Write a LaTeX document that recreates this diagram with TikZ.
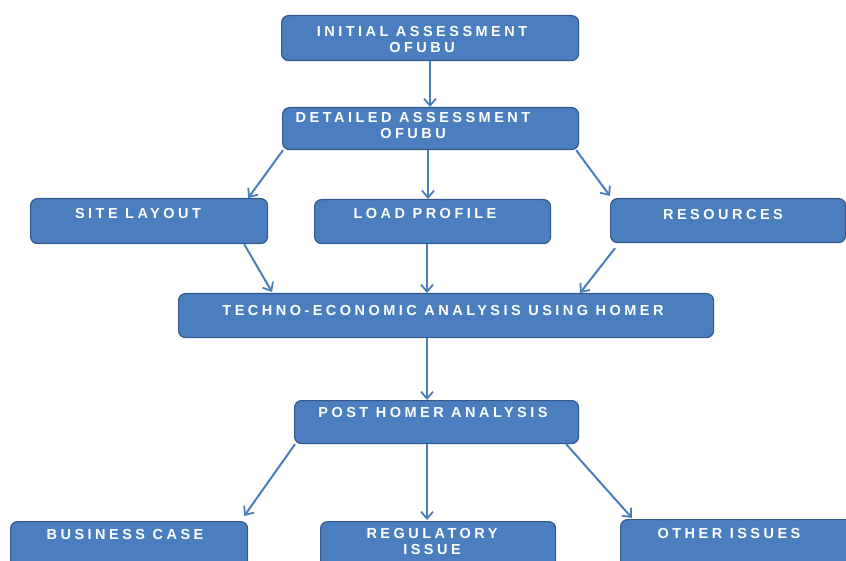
\documentclass[tikz,border=0pt]{standalone}
\usepackage{fontspec}
\setmainfont{Liberation Sans}
\newfontfamily\boxfont{Liberation Sans Bold}[LetterSpace=24]
\usetikzlibrary{arrows.meta,calc}
\definecolor{boxfill}{RGB}{74,126,190}
\definecolor{boxline}{RGB}{52,90,140}
\definecolor{arr}{RGB}{74,126,187}
\begin{document}
\begin{tikzpicture}[x=1pt,y=-1pt,
  box/.style={draw=boxline,line width=1.2pt,fill=boxfill,rounded corners=7pt,inner sep=0pt,anchor=north west},
  lbl/.style={text=white,font=\boxfont\fontsize{14.5}{16}\selectfont,align=center,inner sep=0pt},
  conn/.style={draw=arr,line width=2pt,-{Straight Barb[length=7pt,width=12pt,line width=1.8pt]}}]
\useasboundingbox (0,0) rectangle (846,561);
% boxes
\node[box,minimum width=297pt,minimum height=45pt] (ini) at (281,15) {};
\node[box,minimum width=296pt,minimum height=42pt] (det) at (282,107) {};
\node[box,minimum width=237pt,minimum height=45pt] (site) at (30,198) {};
\node[box,minimum width=236pt,minimum height=44pt] (load) at (314,199) {};
\node[box,minimum width=235pt,minimum height=44pt] (res) at (610,198) {};
\node[box,minimum width=535pt,minimum height=44pt] (tech) at (178,293) {};
\node[box,minimum width=284pt,minimum height=43pt] (post) at (294,400) {};
\node[box,minimum width=237pt,minimum height=54pt] (bus) at (10,521) {};
\node[box,minimum width=235pt,minimum height=54pt] (reg) at (320,521) {};
\node[box,minimum width=240pt,minimum height=56pt] (oth) at (620,519) {};
% labels
\node[lbl] (iniT) at (422,39.5) {INITIAL ASSESSMENT\\OFUBU};
\node[lbl] (detT) at (413,125.5) {DETAILED ASSESSMENT\\OFUBU};
\node[lbl] (siteT) at (138,214) {SITE LAYOUT};
\node[lbl] (loadT) at (425,214) {LOAD PROFILE};
\node[lbl] (resT) at (723,215) {RESOURCES};
\node[lbl] (techT) at (443,311) {TECHNO-ECONOMIC ANALYSIS USING HOMER};
\node[lbl] (postT) at (433,413) {POST HOMER ANALYSIS};
\node[lbl] (busT) at (125,535) {BUSINESS CASE};
\node[lbl] (regT) at (432,541.5) {REGULATORY\\ISSUE};
\node[lbl] (othT) at (729,534) {OTHER ISSUES};
% connectors
\draw[conn] ($(ini.south west)+(149,0)$) -- ($(det.north west)+(148,0)$);
\draw[conn] ($(det.south west)+(1,0)$) -- ($(site.north east)+(-20,0)$);
\draw[conn] ($(det.south west)+(146,0)$) -- ($(load.north west)+(114,0)$);
\draw[conn] ($(det.south east)+(-3,0)$) -- ($(res.north west)+(0,-2)$);
\draw[conn] ($(site.south east)+(-24,0)$) -- ($(tech.north west)+(94,-1)$);
\draw[conn] ($(load.south west)+(113,0)$) -- ($(tech.north west)+(249,0)$);
\draw[conn] ($(res.south west)+(5,5)$) -- ($(tech.north west)+(402,0)$);
\draw[conn] ($(tech.south west)+(249,0)$) -- ($(post.north west)+(133,0)$);
\draw[conn] ($(post.south west)+(1,0)$) -- ($(bus.north east)+(-4,-5)$);
\draw[conn] ($(post.south west)+(133,0)$) -- ($(reg.north west)+(107,-1)$);
\draw[conn] ($(post.south east)+(-13,0)$) -- ($(oth.north west)+(12,-1)$);
\end{tikzpicture}
\end{document}
